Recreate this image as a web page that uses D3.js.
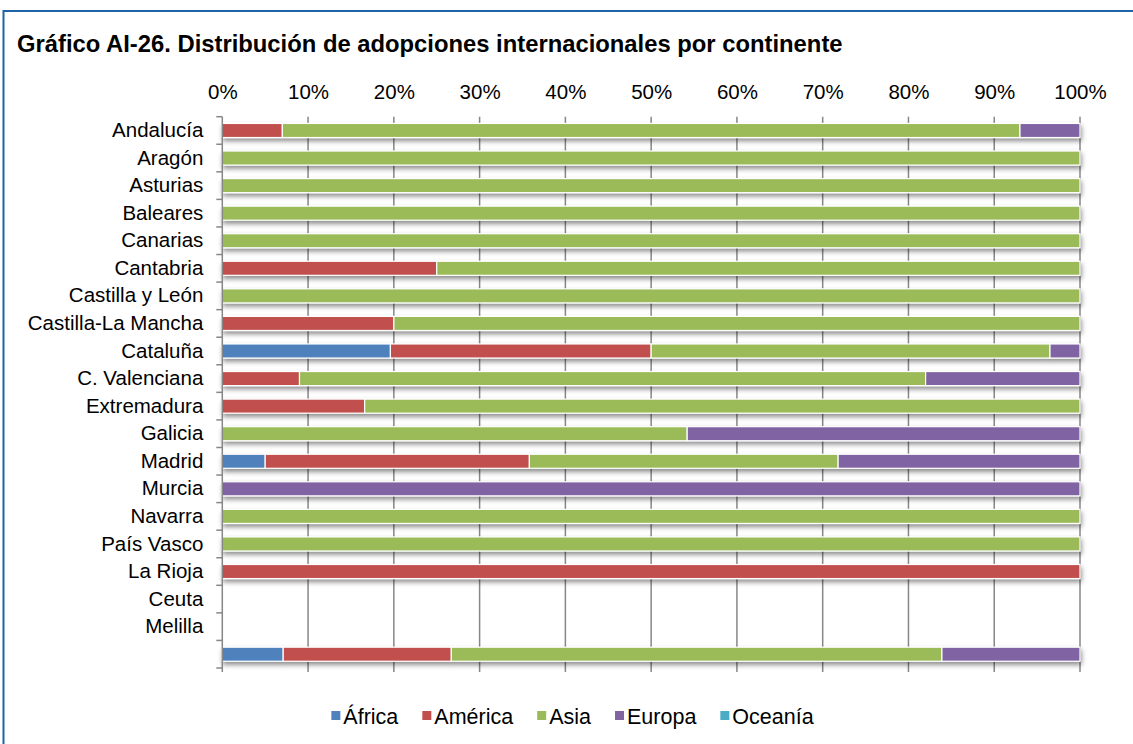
<!DOCTYPE html>
<html>
<head>
<meta charset="utf-8">
<script src="https://cdn.jsdelivr.net/npm/d3@7"></script>
<style>
  body { margin: 0; background: #fff; }
  text { font-family: "Liberation Sans", Arial, sans-serif; fill: #000; }
</style>
</head>
<body>
<svg id="chart" width="1133" height="744"></svg>
<script>
// Regions (last row is the national total, unlabeled)
const regions = ["Andalucía", "Aragón", "Asturias", "Baleares", "Canarias", "Cantabria",
  "Castilla y León", "Castilla-La Mancha", "Cataluña", "C. Valenciana", "Extremadura",
  "Galicia", "Madrid", "Murcia", "Navarra", "País Vasco", "La Rioja", "Ceuta", "Melilla", ""];

// Share of adoptions per continent (%)
const africa  = [0, 0, 0, 0, 0, 0, 0, 0, 19.6, 0, 0, 0, 5.0, 0, 0, 0, 0, 0, 0, 7.1];
const america = [7.0, 0, 0, 0, 0, 25.0, 0, 20.0, 30.4, 9.0, 16.6, 0, 30.8, 0, 0, 0, 100, 0, 0, 19.6];
const asia    = [86.0, 100, 100, 100, 100, 75.0, 100, 80.0, 46.5, 73.0, 83.4, 54.2, 36.0, 0, 100, 100, 0, 0, 0, 57.2];
const europa  = [7.0, 0, 0, 0, 0, 0, 0, 0, 3.5, 18.0, 0, 45.8, 28.2, 100, 0, 0, 0, 0, 0, 16.1];
const oceania = [0, 0, 0, 0, 0, 0, 0, 0, 0, 0, 0, 0, 0, 0, 0, 0, 0, 0, 0, 0];

const seriesNames = ["África", "América", "Asia", "Europa", "Oceanía"];
const seriesColors = ["#4f81bd", "#c0504d", "#9bbb59", "#8064a2", "#4bacc6"];
const tickValues = [0, 10, 20, 30, 40, 50, 60, 70, 80, 90, 100];

const rows = regions.map((r, i) => ({
  idx: i, region: r,
  "África": africa[i], "América": america[i], "Asia": asia[i],
  "Europa": europa[i], "Oceanía": oceania[i]
}));

const svg = d3.select("#chart");
const W = 1133, H = 744;

// Chart frame
svg.append("rect")
  .attr("x", 3.5).attr("y", 11).attr("width", W + 20).attr("height", H + 20)
  .attr("fill", "#fff").attr("stroke", "#1f64a8").attr("stroke-width", 2);

// Title
svg.append("text")
  .attr("x", 17).attr("y", 52)
  .attr("font-size", "23.8px").attr("font-weight", "bold")
  .text("Gráfico AI-26. Distribución de adopciones internacionales por continente");

const plot = { left: 222.3, right: 1080, top: 116.7, bottom: 668 };

const x = d3.scaleLinear().domain([0, 100]).range([plot.left, plot.right]);
const y = d3.scaleBand().domain(d3.range(regions.length))
  .range([plot.top, plot.bottom]).paddingInner(0.49).paddingOuter(0.245);

// Shadow filter for bars
const defs = svg.append("defs");
const f = defs.append("filter").attr("id", "barShadow")
  .attr("x", "-5%").attr("y", "-60%").attr("width", "110%").attr("height", "260%");
f.append("feDropShadow").attr("dx", 1).attr("dy", 3).attr("stdDeviation", 2.8)
  .attr("flood-color", "#000").attr("flood-opacity", 0.45);

// Vertical gridlines
svg.append("g").selectAll("line").data(tickValues.slice(1)).join("line")
  .attr("x1", d => x(d)).attr("x2", d => x(d))
  .attr("y1", plot.top).attr("y2", plot.bottom + 4)
  .attr("stroke", "#878787").attr("stroke-width", 1.5);

// Top axis labels
const xAxis = d3.axisTop(x).tickValues(tickValues).tickFormat(d => d + "%").tickSize(0).tickPadding(0);
const gx = svg.append("g").attr("transform", `translate(0,${plot.top - 18})`).call(xAxis);
gx.select(".domain").remove();
gx.selectAll("text").attr("font-size", "20.5px").attr("font-family", "Liberation Sans, Arial, sans-serif").attr("fill", "#000");

// Stacked bars
const stack = d3.stack().keys(seriesNames);
const stacked = stack(rows);
const color = d3.scaleOrdinal().domain(seriesNames).range(seriesColors);

const rowGroups = svg.append("g").selectAll("g.row").data(rows).join("g")
  .attr("class", "row").attr("filter", "url(#barShadow)");

rowGroups.selectAll("rect")
  .data(r => stacked.map(s => ({ key: s.key, seg: s[r.idx], idx: r.idx })).filter(d => d.seg[1] - d.seg[0] > 0))
  .join("rect")
  .attr("x", d => x(d.seg[0]))
  .attr("width", d => x(d.seg[1]) - x(d.seg[0]))
  .attr("y", d => y(d.idx))
  .attr("height", y.bandwidth())
  .attr("fill", d => color(d.key))
  .attr("stroke", "#fff").attr("stroke-width", 1.2);

// Left category axis
const yAxis = d3.axisLeft(y).tickFormat(i => regions[i]).tickSize(0).tickPadding(19);
const gy = svg.append("g").attr("transform", `translate(${plot.left},0)`).call(yAxis);
gy.select(".domain").remove();
gy.selectAll("text").attr("font-size", "20.5px").attr("font-family", "Liberation Sans, Arial, sans-serif").attr("fill", "#000");

const axisG = svg.append("g");
axisG.append("line")
  .attr("x1", plot.left).attr("x2", plot.left)
  .attr("y1", plot.top).attr("y2", plot.bottom + 4)
  .attr("stroke", "#878787").attr("stroke-width", 1.5);
axisG.selectAll("line.tick").data(d3.range(regions.length + 1)).join("line")
  .attr("class", "tick")
  .attr("x1", plot.left - 6).attr("x2", plot.left)
  .attr("y1", i => plot.top + i * (plot.bottom - plot.top) / regions.length)
  .attr("y2", i => plot.top + i * (plot.bottom - plot.top) / regions.length)
  .attr("stroke", "#878787").attr("stroke-width", 1.5);

// Legend
const legend = svg.append("g");
let cx = 0;
const gap = 24;
const items = seriesNames.map((name, i) => {
  const g = legend.append("g");
  g.append("rect").attr("x", 0).attr("y", -5).attr("width", 9).attr("height", 9).attr("fill", seriesColors[i]);
  const t = g.append("text").attr("x", 12).attr("y", 7.5).attr("font-size", "21.5px").text(name);
  const w = 12 + t.node().getComputedTextLength();
  const pos = cx;
  cx += w + gap;
  return { g, pos };
});
const totalW = cx - gap;
const startX = 572.5 - totalW / 2;
items.forEach(it => it.g.attr("transform", `translate(${startX + it.pos},716)`));
</script>
</body>
</html>
